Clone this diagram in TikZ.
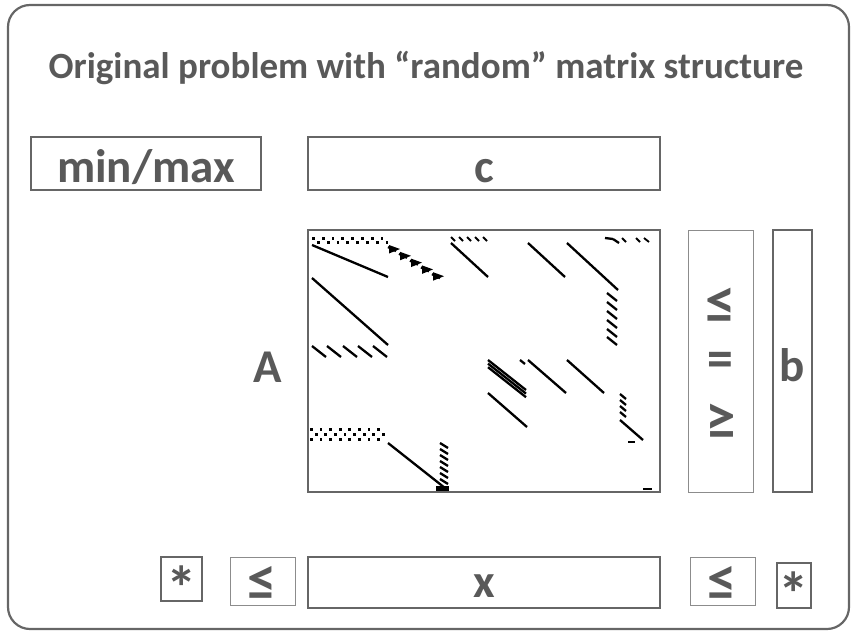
\documentclass[tikz,border=0pt]{standalone}
\usepackage{fontspec}
\setmainfont{Carlito}
\definecolor{frame}{HTML}{666666}
\definecolor{thin}{HTML}{8C8C8C}
\definecolor{txt}{HTML}{595959}
\newcommand{\astk}{\scalebox{1.3}{\raisebox{-0.36em}[0.39em][0pt]{*}}}
\begin{document}
\begin{tikzpicture}[x=1pt,y=-1pt,
  big/.style={font=\bfseries\fontsize{47}{47}\selectfont,text=txt,inner sep=0pt},
  lbl/.style={big,anchor=base},
  thickbox/.style={draw=frame,line width=2.2pt,inner sep=0pt},
  thinbox/.style={draw=thin,line width=0.9pt,inner sep=0pt},
  sp/.style={line width=2.3pt,black}]
\useasboundingbox (0,0) rectangle (852,632);
\draw[frame,line width=2.2pt,rounded corners=22pt] (8,5) rectangle (849,629);
\node[font=\bfseries\fontsize{37}{37}\selectfont,text=txt] (title) at (426,68) {Original problem with “random” matrix structure};
\node[thickbox,minimum width=230pt,minimum height=53pt] (minmax) at (146,163.5) {};
\node[lbl] (minmaxt) at (146,182) {min/max};
\node[thickbox,minimum width=352pt,minimum height=53pt] (c) at (484,163.5) {};
\node[lbl] (ct) at (484,182) {c};
\node[thickbox,minimum width=352pt,minimum height=262pt] (A) at (484,361) {};
\node[lbl] (Alab) at (268,382) {A};
\node[thinbox,minimum width=65pt,minimum height=262pt] (rel) at (720.5,361) {};
\node[big] (le1) at (720.5,306) {\scalebox{1.3}{≤}};
\node[big] (eq1) at (720.5,364.5) {\scalebox{1.1}[1.2]{=}};
\node[big] (ge1) at (720.5,421.5) {\scalebox{1.3}{≥}};
\node[thickbox,minimum width=39pt,minimum height=262pt] (b) at (792.5,361) {};
\node[lbl] (bt) at (792.5,381) {b};
\node[thickbox,minimum width=41pt,minimum height=44pt] (s1) at (181.5,579) {};
\node[big] (s1t) at (181.5,575.5) {\astk};
\node[thinbox,minimum width=65pt,minimum height=48pt] (l1) at (262.5,581) {};
\node[big] (l1t) at (262.5,583) {\scalebox{1.25}{≤}};
\node[thickbox,minimum width=352pt,minimum height=51pt] (x) at (484,582.5) {};
\node[lbl] (xt) at (484,597) {x};
\node[thinbox,minimum width=65pt,minimum height=48pt] (l2) at (722.5,581) {};
\node[big] (l2t) at (722.5,583) {\scalebox{1.25}{≤}};
\node[thickbox,minimum width=34pt,minimum height=45pt] (s2) at (794,585.5) {};
\node[big] (s2t) at (794,581.5) {\astk};
% sparsity pattern
\begin{scope}
\foreach \i in {0,...,15} {
  \pgfmathtruncatemacro{\yy}{mod(\i,2)==0 ? 237 : 241}
  \fill (312+\i*4.9,\yy) rectangle ++(2.8,2.8);
}
\foreach \i in {0,...,4} {
  \fill (389+\i*11,245+\i*6.8) -- ++(11,4) -- ++(-11,4.5) -- cycle;
  \draw[sp] (388+\i*11,247+\i*6.8) -- ++(8,4);
}
\draw[sp] (312,245) -- (388,277);
\draw[sp] (312,278) -- (388,345);
\foreach \xx in {312,327,343,358,373} \draw[sp] (\xx,346) -- ++(14,11);
\foreach \xx in {451,459,467,475,483} \draw[line width=1.8pt] (\xx,237) -- ++(4,4);
\draw[sp] (451,243) -- (488,277);
\draw[sp] (528,243) -- (565,277);
\draw[sp] (567,243) -- (618,290);
\foreach \yy in {293,302,311,320,329,337} \draw[sp] (607,\yy) -- ++(10,8);
\draw[sp] (605,238) -- (613,239);
\draw[sp] (613,239) -- (619,243);
\draw[line width=1.8pt] (622,238) -- ++(4,4);
\draw[line width=1.8pt] (636,238) -- ++(4,4);
\draw[line width=1.8pt] (644,238) -- ++(5,4);
\foreach \i in {0,...,15} {
  \foreach \r in {0,1,2} {
    \pgfmathtruncatemacro{\shw}{mod(\i+\r,2)}
    \ifnum\shw=0 \fill (310+\i*4.8,428+\r*5) rectangle ++(2.8,2.8);\fi
  }
}
\draw[sp] (388,443) -- (445,488);
\fill (436,486) rectangle (449,491);
\foreach \yy in {443,449,455,461,467,473,479} \draw[sp] (440,\yy) -- ++(8,5);
\foreach \d in {0,3.6,7.2} \draw[sp] (488,360+\d) -- ++(38,30);
\draw[sp] (488,393) -- (527,427);
\draw[sp] (520,360) -- (525,364);
\draw[sp] (528,360) -- (566,393);
\draw[sp] (567,360) -- (604,393);
\foreach \yy in {394,400,406,412} \draw[sp] (620,\yy) -- ++(6,5);
\draw[sp] (620,420) -- (643,440);
\draw[sp] (628,442) -- (635,442);
\draw[sp] (643,489) -- (652,489);
\end{scope}
\end{tikzpicture}
\end{document}
